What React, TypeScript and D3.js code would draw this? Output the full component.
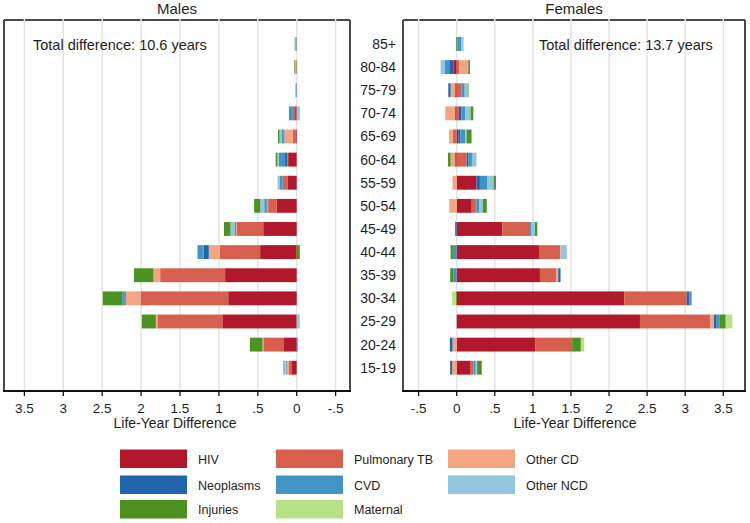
import React from "react";
import * as d3 from "d3";

const ages = ["85+", "80-84", "75-79", "70-74", "65-69", "60-64", "55-59", "50-54", "45-49", "40-44", "35-39", "30-34", "25-29", "20-24", "15-19"];
const categories = ["HIV", "Pulmonary TB", "Other CD", "Neoplasms", "CVD", "Other NCD", "Injuries", "Maternal"];
const colors = ["#B2182B", "#D6604D", "#F4A582", "#2166AC", "#4393C3", "#92C5DE", "#4D9221", "#B8E186"];

// Males (rows in the order of `ages`)
const maleHIV = [0, 0, 0, 0.02, 0.01, 0.11, 0.12, 0.257, 0.43, 0.47, 0.92, 0.88, 0.956, 0.172, 0.06];
const maleTB = [0, 0.01, 0, 0.02, 0.04, 0.01, 0.06, 0.11, 0.34, 0.52, 0.835, 1.126, 0.835, 0.257, 0.04];
const maleOtherCD = [0, 0.01, 0, 0, 0.11, 0, 0, 0.01, 0.01, 0.14, 0.086, 0.193, 0.02, 0.01, 0.03];
const maleNeoplasms = [0.005, 0, 0, 0.01, 0.01, 0.03, 0, 0.01, 0, 0.065, 0, 0.01, 0, -0.01, 0];
const maleCVD = [0.01, 0, 0.01, 0.05, 0.02, 0.08, 0.035, 0.03, 0.02, 0.08, 0, 0.034, 0, 0, 0.01];
const maleOtherNCD = [0.005, 0, 0.01, -0.04, 0.03, 0.02, 0.03, 0.05, 0.05, 0, 0, 0, -0.04, 0, 0.02];
const maleInjuries = [0.005, 0.01, 0, 0, 0.02, 0.02, 0, 0.08, 0.085, -0.04, 0.25, 0.25, 0.18, 0.163, 0.01];
const maleMaternal = [0, 0, 0, 0, 0, 0, 0, 0, 0, 0, 0, 0, 0, 0, 0];

// Females
const femaleHIV = [0, -0.044, -0.02, -0.02, 0.02, -0.02, 0.26, 0.197, 0.6, 1.08, 1.093, 2.2, 2.406, 1.03, 0.175];
const femaleTB = [0, 0.034, 0.065, 0.03, -0.05, 0.13, 0, 0.052, 0.363, 0.276, 0.21, 0.82, 0.92, 0.486, 0.044];
const femaleOtherCD = [0, 0.118, -0.06, -0.13, -0.05, -0.06, -0.055, -0.097, 0, 0.01, 0.03, 0, 0.052, -0.055, -0.06];
const femaleNeoplasms = [0.01, -0.044, -0.03, 0.033, 0.03, 0.02, 0.045, 0.01, -0.02, 0, 0.03, 0.034, 0.035, -0.035, -0.026];
const femaleCVD = [0.05, -0.066, 0.04, 0.05, 0.06, 0.05, 0.1, 0.04, 0.02, -0.05, -0.04, 0.03, 0.035, 0, 0.03];
const femaleOtherNCD = [0.03, -0.057, 0.04, 0.07, 0.02, 0.06, 0.08, 0.044, 0.045, 0.08, 0, 0, 0, 0, 0.02];
const femaleInjuries = [-0.01, 0.022, 0.01, 0.035, 0.065, -0.035, 0.03, 0.052, 0.03, -0.03, -0.045, -0.01, 0.084, 0.114, 0.06];
const femaleMaternal = [0, 0, 0, 0, 0, 0, 0, 0, 0, 0, 0, -0.05, 0.087, 0.044, 0];

const tickValues = [-0.5, 0, 0.5, 1, 1.5, 2, 2.5, 3, 3.5];
const tickLabels = ["-.5", "0", ".5", "1", "1.5", "2", "2.5", "3", "3.5"];

const maleTotal = "Total difference: 10.6 years";
const femaleTotal = "Total difference: 13.7 years";

const FONT = "'Liberation Sans', Arial, sans-serif";
const TEXT = "#1e1e1e";

function buildRows(series: number[][]) {
  return ages.map((age, i) => {
    const row: any = { age };
    categories.forEach((c, k) => (row[c] = series[k][i]));
    return row;
  });
}

const stacker = d3
  .stack<any>()
  .keys(categories)
  .order(d3.stackOrderNone)
  .offset(d3.stackOffsetDiverging);

const yBand = d3.scaleBand<string>().domain(ages).range([32.4, 379.3]).paddingInner(0.4).paddingOuter(0.2);

const TOP = 20;
const BOTTOM = 391;

function Panel({ x, frameLeft, frameRight, title, total, totalX, series, titleX }: any) {
  const stacked = stacker(buildRows(series));
  return (
    <g>
      <text x={(frameLeft + frameRight) / 2} y={14} textAnchor="middle" fontSize={15} fill={TEXT}>
        {title}
      </text>
      {/* frame */}
      <line x1={frameLeft} x2={frameRight} y1={TOP} y2={TOP} stroke="#4a4a4a" strokeWidth={2} />
      <line x1={frameLeft} x2={frameLeft} y1={TOP} y2={BOTTOM} stroke="#4a4a4a" strokeWidth={2} />
      <line x1={frameRight} x2={frameRight} y1={TOP} y2={BOTTOM} stroke="#4a4a4a" strokeWidth={2} />
      {/* grid */}
      {tickValues.map((t) => (
        <line key={"g" + t} x1={x(t)} x2={x(t)} y1={TOP - 1} y2={BOTTOM} stroke="#e3e3e3" strokeWidth={1.5} />
      ))}
      {/* bars */}
      {stacked.map((s, k) => (
        <g key={s.key} fill={colors[k]}>
          {s.map((d, i) => {
            const a = x(d[0]);
            const b = x(d[1]);
            const w = Math.abs(b - a);
            if (w < 0.01) return null;
            return <rect key={i} x={Math.min(a, b)} y={yBand(ages[i])} width={w} height={yBand.bandwidth()} />;
          })}
        </g>
      ))}
      {/* bottom axis */}
      <line x1={frameLeft - 1} x2={frameRight + 1} y1={BOTTOM} y2={BOTTOM} stroke="#111" strokeWidth={2} />
      {tickValues.map((t, i) => (
        <g key={"t" + t}>
          <line x1={x(t)} x2={x(t)} y1={BOTTOM} y2={BOTTOM + 5} stroke="#111" strokeWidth={1.3} />
          <text x={x(t)} y={BOTTOM + 22} textAnchor="middle" fontSize={13.5} fill={TEXT}>
            {tickLabels[i]}
          </text>
        </g>
      ))}
      <text x={titleX} y={BOTTOM + 37} textAnchor="middle" fontSize={14} fill={TEXT}>
        Life-Year Difference
      </text>
      <text x={totalX} y={50} fontSize={14.5} fill={TEXT}>
        {total}
      </text>
    </g>
  );
}

export default function App() {
  const xMale = d3.scaleLinear().domain([0, 3.5]).range([296.7, 24.4]);
  const xFemale = d3.scaleLinear().domain([0, 3.5]).range([456.7, 723.3]);
  const maleSeries = [maleHIV, maleTB, maleOtherCD, maleNeoplasms, maleCVD, maleOtherNCD, maleInjuries, maleMaternal];
  const femaleSeries = [femaleHIV, femaleTB, femaleOtherCD, femaleNeoplasms, femaleCVD, femaleOtherNCD, femaleInjuries, femaleMaternal];

  const legendCols = [120, 276, 448];
  const legendRows = [449.5, 475.5, 500];

  return (
    <svg
      width={750}
      height={523}
      style={{ position: "absolute", left: 0, top: 0, background: "#fff" }}
      fontFamily={FONT}
    >
      <rect x={0} y={0} width={750} height={523} fill="#fff" />
      <Panel x={xMale} frameLeft={4} frameRight={350} title="Males" total={maleTotal} totalX={33} titleX={175} series={maleSeries} />
      <Panel x={xFemale} frameLeft={403} frameRight={745} title="Females" total={femaleTotal} totalX={539} titleX={575} series={femaleSeries} />
      {ages.map((a) => (
        <text key={a} x={396} y={(yBand(a) as number) + yBand.bandwidth() / 2 + 5} textAnchor="end" fontSize={14} fill={TEXT}>
          {a}
        </text>
      ))}
      {categories.map((c, k) => {
        const col = k % 3;
        const row = Math.floor(k / 3);
        const sx = legendCols[col];
        const sy = legendRows[row];
        return (
          <g key={c}>
            <rect x={sx} y={sy} width={67} height={18.5} fill={colors[k]} />
            <text x={sx + 78} y={sy + 14} fontSize={12.5} fill={TEXT}>
              {c}
            </text>
          </g>
        );
      })}
    </svg>
  );
}
